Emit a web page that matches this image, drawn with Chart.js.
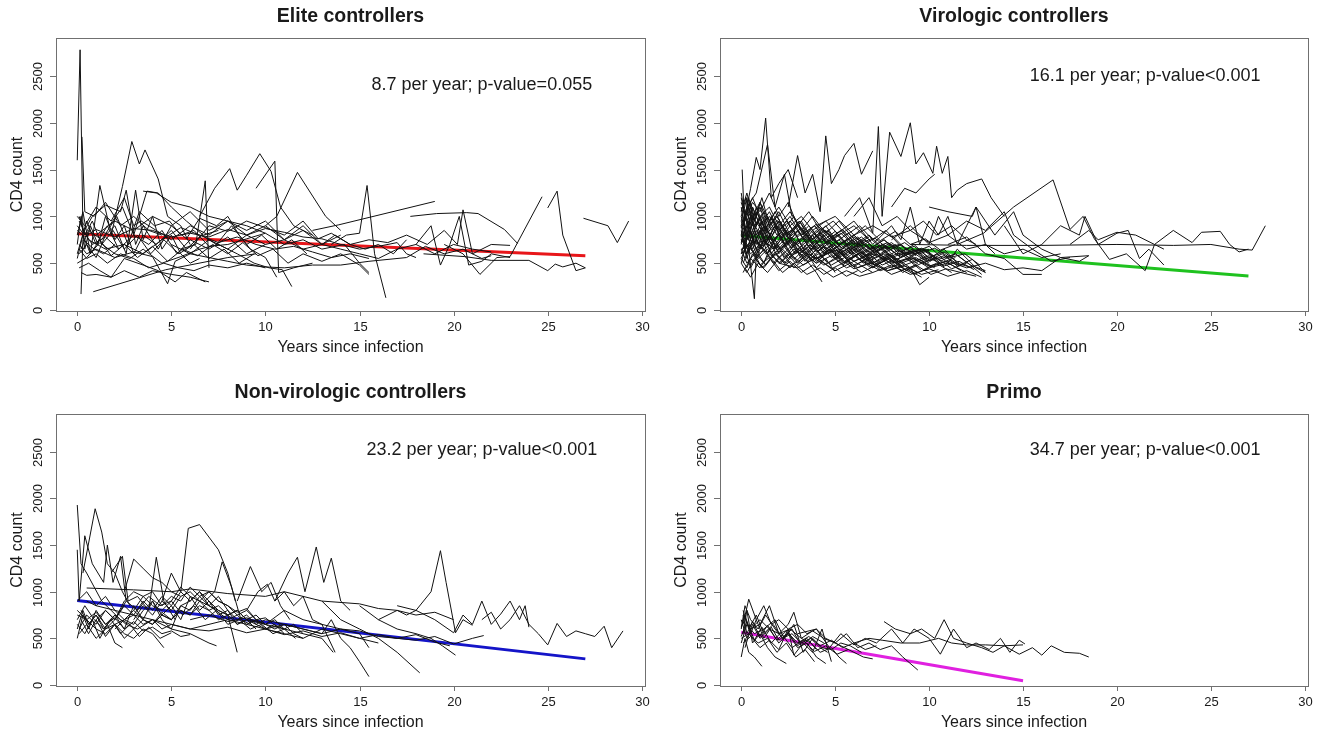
<!DOCTYPE html>
<html>
<head>
<meta charset="utf-8">
<title>CD4 count since infection</title>
<script src="https://cdn.jsdelivr.net/npm/chart.js@4.4.1/dist/chart.umd.min.js"></script>
<style>
  body { margin: 0; background: #fff; }
  #wrap { position: relative; width: 1320px; height: 736px; overflow: hidden; }
  canvas { position: absolute; }
</style>
</head>
<body>
<div id="wrap">
  <canvas id="c1" width="660" height="368" style="left:0;top:0"></canvas>
  <canvas id="c2" width="660" height="368" style="left:660px;top:0"></canvas>
  <canvas id="c3" width="660" height="368" style="left:0;top:368px"></canvas>
  <canvas id="c4" width="660" height="368" style="left:660px;top:368px"></canvas>
</div>
<script>
// Axis ticks
const xTicks = [0, 5, 10, 15, 20, 25, 30];
const yTicks = [0, 500, 1000, 1500, 2000, 2500];

// Panel texts
const titles = ["Elite controllers", "Virologic controllers", "Non-virologic controllers", "Primo"];
const notes = [
    "8.7 per year; p-value=0.055",
    "16.1 per year; p-value<0.001",
    "23.2 per year; p-value<0.001",
    "34.7 per year; p-value<0.001"
];
const noteX = 21.5;
const noteY = [2400, 2500, 2520, 2520];

// Fitted slopes: [year, CD4] at start and end
const eliteTrend = [[0, 815], [27, 580]];
const viroTrend = [[0, 795], [27, 362]];
const nonViroTrend = [[0, 905], [27, 280]];
const primoTrend = [[0, 565], [15, 45]];
const trendColors = ["#e8161a", "#1fc21f", "#1414c8", "#e020e0"];

// Individual trajectories, each a list of [year, CD4]
const eliteLines = [
    [[0,1600],[0.15,2780],[0.3,850],[0.8,700],[1.5,780],[2.2,650]],
    [[0.25,1850],[0.4,1050],[0.9,1000],[1.5,1150],[2.3,900],[3,1000],[3.8,850],[4.5,800]],
    [[0.2,170],[0.3,750],[0.9,650],[1.4,600],[2,700]],
    [[0.85,195],[4.7,430],[8,560],[9.5,600]],
    [[1.8,800],[2.4,1320],[2.9,1800],[3.3,1560],[3.6,1710],[4.3,1400],[4.8,1000],[5.5,900],[6,700]],
    [[6.5,1000],[7.3,1300],[8.1,1510],[8.5,1280],[9,1440],[9.7,1670],[10.3,1480],[10.8,1100],[11.5,900],[12.5,800]],
    [[9.5,1300],[10.5,1590],[10.7,400],[11.5,450],[12.5,500]],
    [[10,900],[10.6,1000],[11.7,1470],[13.2,1000],[14,850]],
    [[13.5,700],[14.3,800],[15,820],[15.4,1330],[15.8,600],[16.4,130]],
    [[5.5,650],[6.3,700],[6.8,1380],[7,450]],
    [[12.5,850],[13.9,910],[19,1160]],
    [[17.7,1000],[19.1,1030],[20.7,1040],[21.3,1030],[22.7,860],[23.4,710]],
    [[19.5,700],[20.5,600],[21.4,380],[22.3,560],[23,570],[24.7,1210]],
    [[25,1090],[25.5,1270],[25.8,800],[26.5,420],[27,450]],
    [[26.9,980],[28.2,900],[28.7,720],[29.3,950]],
    [[18.4,600],[20.6,570],[22,530],[24,530],[25,420],[25.4,490],[25.8,460],[26.5,500],[27,450]],
    [[0,600],[0.5,950],[1,700],[1.6,900],[2.2,650],[3,800],[3.8,700],[4.5,850],[5.3,600],[6,750],[7,650],[8,780],[9,600],[10,700]],
    [[0,800],[0.3,1050],[0.7,600],[1.2,1330],[1.7,900],[2.4,1100],[3,800],[3.7,1270],[4.3,1250],[5,1100],[5.8,950],[6.7,800],[7.5,850]],
    [[0.1,450],[0.6,500],[1.2,420],[1.8,350],[2.5,550],[3.5,480],[4.3,420],[5.2,300],[5.8,400],[6.8,300]],
    [[0.1,700],[0.5,600],[1,650],[2,560],[3,620],[4,570],[4.8,280],[5.2,520],[6,600],[7,560],[8,520],[9,480],[10,460],[11,450],[12.5,480],[14,480],[15.5,520],[17.5,560],[18.5,680],[19.5,600],[20.5,650],[21.5,550],[22,580]],
    [[0,1000],[0.4,900],[1,1100],[1.8,950],[2.5,1200],[3,900],[3.4,950],[4.2,850],[5,750],[6,900],[7,800],[8,950],[9,850],[10,950],[11,750],[12,900],[13,700],[13.7,800],[14.5,700],[15.3,650],[16,700],[16.8,600],[17.5,750]],
    [[0.2,650],[0.6,850],[1.3,750],[2.1,1000],[2.7,700],[3.3,1050],[4.1,900],[4.9,950],[5.5,800],[6.2,850],[7,680],[8,700],[9,760],[10,820],[11,700],[12,750],[13,650],[14.2,700],[15,500],[15.5,400]],
    [[0,500],[0.5,560],[1.2,720],[2,600],[2.8,550],[3.5,650],[4.5,500],[5.5,570],[6.5,650],[7.5,700],[8.5,600],[9.4,500],[10.2,450],[10.9,430],[11.4,250]],
    [[0,850],[0.4,780],[1,860],[2,780],[3,870],[4,850],[5,780],[6,820],[7,780],[8,860],[9,800],[10,870],[11,830],[12,780],[13,760],[14,700],[15,650],[16,680],[17,720],[17.5,600],[18,560]],
    [[0,900],[0.3,820],[0.8,1000],[1.5,1120],[2.3,1050],[2.6,1280],[3.1,700],[3.5,900],[4.3,650],[5,900],[5.8,760],[6.5,980],[7.4,900],[8,1000],[8.6,800],[9.2,650],[10,560],[10.6,350]],
    [[0.1,600],[0.5,700],[1,560],[1.5,800],[2,900],[2.6,600],[3.1,1280],[3.5,750],[4,1000],[4.5,650],[5,800],[5.5,600],[6,500],[6.5,550]],
    [[6,650],[7,900],[8,840],[9,950],[10,880],[11,800],[12,950],[12.8,760],[13.5,820],[14.5,700],[15.5,750],[16.5,720],[17.5,800],[18.6,700],[19.5,850],[20.2,700],[20.5,1070],[21,600],[22,700],[23,690]],
    [[0.1,950],[0.6,750],[1.5,650],[2.5,700],[3.5,600],[4.5,750],[5.5,880],[6.5,800],[7.5,720],[8.5,780],[9.5,700],[10.5,650],[11.5,680],[12.5,620],[13.5,560],[14.5,600],[15.5,550]],
    [[3.5,1270],[4.2,1250],[5,1150],[6,1100],[7,1000],[8,950],[9,900],[10,820]],
    [[0.2,400],[0.5,370],[1,380],[1.8,350],[2.5,420],[3.3,350],[4,420],[5,380],[6,350],[7,300]],
    [[18,700],[18.8,900],[19.3,480],[19.8,700],[20.3,1000],[20.8,480],[21.5,520],[22,600],[23,560]],
    [[0,700],[0.2,1000],[0.4,650],[0.7,900],[1.1,700],[1.5,1000],[2,750],[2.5,900],[3,600],[3.5,800],[4.2,700],[5,850],[5.8,650],[6.6,800],[7.4,700],[8.2,900],[9,700],[9.8,800],[10.6,650],[11.4,750],[12.2,600]],
    [[0,550],[0.3,800],[0.7,600],[1.2,750],[1.8,580],[2.5,700],[3.2,560],[4,680],[4.8,520],[5.6,650],[6.4,580],[7.2,700],[8,600],[8.8,720],[9.6,580],[10.4,650],[11.2,500],[12,600],[13,520],[14,600],[15,480],[15.5,380]],
    [[0.1,1000],[0.4,800],[0.8,950],[1.3,700],[1.9,850],[2.5,650],[3.2,800],[3.9,600],[4.6,750],[5.4,600],[6.2,700],[7,550],[7.8,650],[8.6,500],[9.4,600]],
    [[0.1,650],[0.5,550],[1,600],[1.6,500],[2.3,600],[3,550],[3.8,450],[4.6,500],[5.4,450],[6.2,420],[7,480],[8,450],[9,500],[10,450]],
    [[1,800],[2,950],[3,850],[4,1000],[5,900],[6,1050],[7,850],[8,950],[9,800],[10,900],[11,750],[12,850],[13,700],[14,800]],
    [[5,700],[6,600],[7,750],[8,650],[9,800],[10,700],[11,750],[12,650],[13,700],[14,650],[15,600],[16,550],[17,650],[18,700],[19,600],[20,700],[21,650],[22,620]]
];

const viroLines = [
    [[0.1,900],[0.5,1300],[0.8,1630],[1,1500],[1.3,2050],[1.6,1200],[2,1350],[2.5,1500],[3,1200]],
    [[0.3,1100],[0.8,1250],[1.4,1770],[1.8,1100],[2.3,1450],[2.7,1000]],
    [[2.5,1100],[3,1650],[3.4,1250],[3.8,1450],[4.2,1050],[4.5,1860],[4.8,1350],[5.2,1500],[5.5,1650],[6,1780],[6.4,1450],[7,1700]],
    [[5.5,1000],[6.3,1200],[7,820],[7.3,1960],[7.5,1000],[7.9,1900],[8.5,1640],[9,2000],[9.3,1560],[9.7,1680],[10.2,1460],[10.4,1750],[10.7,1460],[11,1640],[11.2,1200],[11.5,1280],[12,1350],[12.8,1400],[13.3,1200],[14,1000]],
    [[8,1100],[8.7,1300],[9.3,1250],[10,1400],[10.3,1450]],
    [[11.5,700],[12.9,820],[14.5,1100],[16.6,1390],[17.5,860],[18.2,1000],[18.8,760],[19.6,540],[20.5,600],[21.5,420],[22,700],[22.5,650]],
    [[9,700],[12,690],[16,690],[20,700],[23,690],[25,700],[26.5,650],[27.2,640],[27.9,900]],
    [[17.5,700],[18.5,850],[19,750],[20,830],[21,800],[22,700],[23,850],[24,720],[24.5,830],[25.5,840],[26,700],[26.5,620],[27,650]],
    [[14,900],[15,600],[16,700],[17,900],[18,800],[18.3,1000],[19,700],[20,820],[20.6,850],[21.2,550],[21.7,650],[22.5,480]],
    [[10,1100],[11,1050],[12.3,1000],[12.5,1100],[13.5,800],[14.5,1050],[15,800],[16,650],[17,560],[18.5,580]],
    [[11,700],[12,780],[13,600],[14,550],[15,380],[16,380]],
    [[8,800],[9,600],[10,680],[11,500],[11.5,650],[12.5,450],[13,400]],
    [[0,700],[0.3,950],[0.6,800],[1,1000],[1.4,750],[1.8,900],[2.3,700],[2.8,850],[3.3,650],[3.8,800],[4.4,600],[5,700],[5.6,550],[6.2,650],[7,500],[7.8,600],[8.5,480]],
    [[0,1200],[0.2,1000],[0.5,1150],[0.8,900],[1.2,1050],[1.6,850],[2,950],[2.5,800],[3,900],[3.5,750],[4,850],[4.6,700],[5.2,800],[5.8,650],[6.5,700]],
    [[0.1,500],[0.4,650],[0.7,120],[0.8,600],[1.2,500],[1.6,700],[2,550],[2.5,650],[3,500],[3.5,600],[4,450],[4.5,550],[5,400]],
    [[0,800],[0.3,600],[0.6,850],[1,650],[1.5,800],[2,600],[2.6,750],[3.2,550],[3.8,700],[4.5,600],[5.3,650],[6,520],[6.8,600],[7.5,480],[8.3,550],[9,450],[9.5,270],[10,350]],
    [[0.05,1500],[0.2,800],[0.5,1000],[0.9,700],[1.3,900],[1.8,700],[2.4,850],[3,650],[3.6,750],[4.2,600],[4.9,700],[5.6,580],[6.3,680],[7,560]],
    [[0,650],[0.4,700],[0.8,550],[1.2,650],[1.7,500],[2.2,600],[2.8,450],[3.4,550],[4,400],[4.3,300]],
    [[0,900],[0.3,1100],[0.7,950],[1.1,1200],[1.5,900],[2,1050],[2.6,800],[3.2,950],[3.8,750],[4.5,900],[5.2,700],[6,800],[6.8,650],[7.6,750],[8.4,600],[9.2,700],[10,550],[10.8,650],[11.5,500],[12.3,450]],
    [[0.1,600],[0.5,750],[1,600],[1.5,700],[2,800],[2.5,650],[3,750],[3.5,600],[4.2,700],[5,550],[5.8,650],[6.5,500],[7.2,600],[8,450],[8.8,550],[9.6,420],[10.4,500],[11.2,400]],
    [[0,1000],[0.3,800],[0.6,1100],[1,900],[1.5,1000],[2,850],[2.6,950],[3.2,800],[3.9,900],[4.6,750],[5.3,850],[6,700],[6.8,800],[7.6,650],[8.4,700],[9.2,600],[10,650]],
    [[0.2,450],[0.5,350],[0.9,500],[1.4,400],[2,550],[2.6,450],[3.3,600],[4,500],[4.7,650],[5.4,500],[6.2,600],[7,450],[7.8,550],[8.6,400],[9.4,500]],
    [[0,750],[0.4,850],[0.9,700],[1.4,800],[2,650],[2.7,750],[3.4,600],[4.1,700],[4.8,560],[5.6,650],[6.4,520],[7.3,600],[8.2,500],[9.1,560],[10,450],[11,500],[12,400]],
    [[0,1050],[0.3,1250],[0.6,1000],[1,1150],[1.5,950],[2,1100],[2.6,900],[3.2,1000],[3.8,850],[4.5,950],[5.2,800],[6,900],[6.8,750]],
    [[0.1,800],[0.4,650],[0.8,750],[1.3,600],[1.9,700],[2.5,550],[3.2,650],[4,500],[4.8,580],[5.6,450],[6.5,520],[7.4,420],[8.3,480],[9.2,380],[10,450]],
    [[0,550],[0.3,700],[0.7,600],[1.2,750],[1.7,650],[2.3,800],[3,700],[3.7,850],[4.4,700],[5.1,800],[5.8,650],[6.6,750],[7.4,600],[8.2,700],[9,580],[9.8,650],[10.6,520],[11.4,600],[12.2,480],[12.8,380]],
    [[0,900],[0.2,700],[0.5,850],[0.8,650],[1.2,800],[1.6,600],[2.1,750],[2.7,580],[3.3,700],[4,550],[4.7,650],[5.5,500],[6.3,600],[7.1,480],[8,560],[8.8,420],[9.6,500]],
    [[0.1,1100],[0.4,900],[0.8,1050],[1.3,850],[1.9,1000],[2.5,800],[3.1,950],[3.8,750],[4.5,850],[5.2,700],[6,800],[6.8,650],[7.6,750],[8.4,620],[9.2,680],[10,560],[10.8,620],[11.6,500]],
    [[0,650],[0.3,500],[0.7,600],[1.1,450],[1.6,550],[2.2,400],[2.8,500],[3.5,380],[4.2,450],[4.9,350],[5.6,420],[6.3,360],[7,400]],
    [[0.2,850],[0.6,1000],[1.1,850],[1.7,950],[2.3,800],[3,900],[3.7,750],[4.4,850],[5.2,700],[6,780],[6.9,650],[7.8,720],[8.7,600],[9.6,660],[10.5,540],[11.4,600],[12.2,480],[13,420]],
    [[0,750],[0.5,600],[1,700],[1.6,550],[2.2,650],[2.9,500],[3.6,600],[4.4,480],[5.2,560],[6,440],[6.9,500],[7.8,420],[8.7,470],[9.6,380],[10.5,430]],
    [[0,950],[0.3,1200],[0.6,900],[1,1100],[1.4,850],[1.9,1000],[2.5,800],[3.1,950],[3.8,700],[4.6,850],[5.4,650],[6.2,780],[7.1,620],[8,700],[8.9,560],[9.8,640],[10.6,500],[11.4,560]],
    [[0.1,400],[0.5,550],[1,450],[1.5,600],[2.1,500],[2.8,650],[3.5,550],[4.3,700],[5.1,580],[5.9,680],[6.7,560],[7.5,650],[8.3,540],[9.1,620],[10,500]],
    [[0,800],[0.2,1000],[0.5,750],[0.9,950],[1.3,700],[1.8,900],[2.4,680],[3,850],[3.7,640],[4.4,800],[5.1,600],[5.9,750],[6.7,580],[7.5,700],[8.3,540],[9.1,650],[9.9,520],[10.7,600],[11.5,470],[12.3,540],[13,400]],
    [[0.1,700],[0.4,850],[0.8,700],[1.2,900],[1.7,750],[2.2,850],[2.8,700],[3.4,800],[4,650],[4.7,750],[5.4,620],[6.1,720],[6.9,600],[7.7,680],[8.5,560],[9.3,640],[10.1,520]],
    [[0,1150],[0.3,950],[0.6,1100],[1,900],[1.5,1050],[2,850],[2.6,1000],[3.2,800],[3.9,900],[4.6,720],[5.3,820],[6.1,680],[6.9,760],[7.7,620],[8.5,700],[9.3,580]],
    [[0,600],[0.4,700],[0.9,550],[1.4,650],[2,500],[2.6,600],[3.3,480],[4,560],[4.8,440],[5.6,520],[6.4,400],[7.2,480],[8,380],[8.8,440],[9.6,350]],
    [[6,1000],[6.8,1200],[7.5,900],[8.3,1000],[9,850],[9.7,950],[10.4,800],[11.2,900],[12,750],[12.5,700]],
    [[4,900],[5,1000],[6,800],[7,900],[8,780],[9,850],[10,720],[11,800],[12,650],[13,700],[14,600],[15,650],[16,560],[17,600]],
    [[3,650],[4,550],[5,640],[6,520],[7,600],[8,500],[9,560],[10,470],[11,520],[12,450],[13,500],[14,430],[15,450],[16,420],[17,560],[18,520],[18.5,580]],
    [[0.2,950],[0.6,1150],[1,1050],[1.5,1250],[2,1000],[2.5,1150],[3,900],[3.6,1050],[4.2,850],[4.9,950],[5.6,800],[6.3,900],[7,750],[7.7,850],[8.4,700]],
    [[0,500],[0.3,400],[0.7,550],[1.2,450],[1.8,600],[2.4,500],[3,650],[3.7,550],[4.4,680],[5.2,560],[6,650],[6.8,520],[7.6,600],[8.4,480]],
    [[8,750],[9,900],[10,700],[10.5,1000],[11,800],[12,950],[13,850],[14,1050],[14.5,800],[15.5,650],[16.5,520],[17.5,560]],
    [[0,850],[0.2,650],[0.4,900],[0.7,700],[1,850],[1.4,600],[1.8,750],[2.3,550],[2.8,700],[3.4,520],[4,650],[4.6,500],[5.3,600],[6,460],[6.7,560],[7.4,430]],
    [[0,1000],[0.25,1200],[0.5,850],[0.8,1100],[1.2,800],[1.6,1000],[2.1,750],[2.6,900],[3.2,700],[3.8,850],[4.5,650],[5.2,750],[6,600],[6.8,700],[7.6,560],[8.4,640],[9.2,520],[10,580],[10.8,460]],
    [[0.1,700],[0.3,550],[0.6,750],[0.9,600],[1.3,800],[1.8,650],[2.3,750],[2.9,600],[3.5,700],[4.1,550],[4.8,650],[5.5,520],[6.2,600],[7,480],[7.8,560],[8.6,450]],
    [[0,600],[0.3,800],[0.6,650],[1,850],[1.4,700],[1.9,900],[2.4,750],[3,850],[3.6,680],[4.2,800],[4.9,650],[5.6,740],[6.4,600],[7.2,680],[8,560],[8.8,620],[9.6,500],[10.4,560],[11.2,440],[12,500]],
    [[0,1100],[0.2,850],[0.5,1000],[0.8,800],[1.1,950],[1.5,750],[2,900],[2.5,700],[3.1,820],[3.7,650],[4.3,760],[5,600],[5.7,700],[6.4,560],[7.1,640],[7.8,520]],
    [[0.1,900],[0.4,1100],[0.7,900],[1.1,1000],[1.5,800],[2,950],[2.6,750],[3.2,880],[3.9,700],[4.6,820],[5.3,660],[6,760],[6.8,620],[7.6,700],[8.4,580],[9.2,640],[10,520],[10.8,580],[11.6,480]],
    [[0,500],[0.2,650],[0.5,450],[0.9,600],[1.3,480],[1.8,620],[2.3,500],[2.9,640],[3.5,520],[4.1,600],[4.8,480],[5.5,560],[6.2,450],[7,520],[7.8,420],[8.6,480],[9.4,400]],
    [[0,780],[0.3,900],[0.7,720],[1.1,880],[1.6,700],[2.1,820],[2.7,660],[3.3,780],[4,620],[4.7,720],[5.4,580],[6.1,680],[6.9,540],[7.7,620],[8.5,500],[9.3,560],[10.1,460],[10.9,520],[11.7,420]],
    [[0,1250],[0.2,1000],[0.4,1200],[0.7,950],[1,1150],[1.4,900],[1.8,1050],[2.3,850],[2.8,1000],[3.4,800],[4,920],[4.7,760],[5.4,860],[6.1,700],[6.8,780]],
    [[0.1,650],[0.4,800],[0.8,600],[1.2,750],[1.7,580],[2.2,700],[2.8,540],[3.4,660],[4,520],[4.7,620],[5.4,480],[6.1,580],[6.9,450],[7.7,530],[8.5,420],[9.3,480],[10.1,380],[10.9,440],[11.7,400],[12.5,360]],
    [[0,950],[0.3,750],[0.6,950],[1,800],[1.4,1000],[1.9,800],[2.4,950],[3,780],[3.6,900],[4.3,730],[5,840],[5.7,690],[6.4,780],[7.2,640],[8,720],[8.8,590],[9.6,650],[10.4,540]],
    [[0,720],[0.2,880],[0.5,700],[0.8,850],[1.2,680],[1.6,820],[2.1,650],[2.7,780],[3.3,620],[3.9,740],[4.6,600],[5.3,700],[6,570],[6.8,660],[7.6,540],[8.4,610],[9.2,500],[10,560],[10.8,470],[11.6,520],[12.4,430]],
    [[0.2,1000],[0.6,1200],[1,1000],[1.5,1100],[2,900],[2.6,1050],[3.2,850],[3.8,1000],[4.5,820],[5.2,950],[5.9,780],[6.6,900],[7.4,740],[8.2,840],[9,700],[9.8,760],[10.6,640],[11.4,700]],
    [[0,550],[0.3,450],[0.6,600],[1,480],[1.5,560],[2,420],[2.6,520],[3.2,400],[3.8,480],[4.4,380],[5,450],[5.6,360],[6.2,420]],
    [[0,880],[0.3,1050],[0.6,850],[1,1000],[1.4,820],[1.9,960],[2.4,800],[3,920],[3.6,760],[4.3,880],[5,720],[5.7,820],[6.4,680],[7.1,770],[7.9,640],[8.7,720],[9.5,600],[10.3,660],[11.1,560],[11.9,600],[12.7,480]],
    [[0.1,760],[0.4,620],[0.7,800],[1.1,650],[1.5,780],[2,620],[2.5,740],[3.1,600],[3.7,700],[4.3,570],[5,660],[5.7,540],[6.4,620],[7.1,510],[7.9,580],[8.7,480],[9.5,540],[10.3,450]],
    [[5,800],[6,950],[7,700],[8,900],[8.5,750],[9,1100],[9.5,700],[10,950],[10.5,800],[11,1000],[11.5,700],[12,900],[12.5,1100],[13,700],[13.5,600]],
    [[2,500],[3,450],[4,560],[5,420],[6,520],[7,400],[8,480],[9,380],[10,440],[11,360],[12,420],[12.8,350]]
];

const nonViroLines = [
    [[0,1930],[0.2,1300],[0.5,1200],[0.9,1050],[1.3,900],[1.8,800],[2.3,700],[2.8,650]],
    [[0.3,1200],[0.95,1890],[1.3,1640],[1.6,1300],[2,1200],[2.4,1000],[2.8,850]],
    [[0,1450],[0.1,900],[0.4,1600],[0.8,1300],[1.4,1100],[1.6,1500],[1.9,1100],[2.3,1380],[2.6,900]],
    [[4.5,900],[5,1200],[5.5,1000],[5.9,1680],[6.5,1720],[7.5,1450],[8,1200],[8.4,900]],
    [[17,850],[18,800],[18.8,1000],[19.3,1440],[19.6,1100],[20.1,560],[20.5,700],[21,640]],
    [[10.5,900],[11.2,1200],[11.7,1370],[12.1,1000],[12.7,1480],[13.1,1100],[13.5,1360],[14,900],[14.5,800]],
    [[21.5,700],[22,780],[22.5,600],[23,700],[23.5,850],[24,650],[24.5,550],[25,430],[25.5,660],[26,520],[26.5,580],[27,550],[27.5,520],[28,630],[28.4,400],[29,580]],
    [[15,850],[16,700],[17,800],[17.5,750],[18,800],[19,700],[20,560],[20.5,750],[21,650],[21.5,900],[22,650],[22.5,760],[23,900],[23.5,700],[23.8,850],[24,620]],
    [[10,700],[11,650],[12,600],[13,550],[13.5,700],[14,500],[14.5,400],[15,250],[15.5,90]],
    [[13,900],[14,700],[15,600],[16,500],[17,350],[18.2,130]],
    [[16,700],[17,600],[18,550],[18.8,500],[19.4,420],[20.1,320]],
    [[0.5,1040],[3,1020],[5,1000],[6,1030],[8,980],[10,950],[11,1000],[13,900],[15,870],[16,820],[17,800],[18,750],[19,780],[20,700]],
    [[2.5,1000],[3,1350],[3.5,1250],[4,1150],[4.5,1100],[5,1000],[5.5,950]],
    [[1.8,1200],[2.4,1380],[2.7,900],[3.2,950],[3.8,800],[4.2,1370],[4.6,900],[5.2,700]],
    [[6.8,900],[7.3,1000],[7.7,1320],[8.2,1050],[8.7,700],[9.2,650]],
    [[8.5,900],[9.2,1270],[9.8,1000],[10.3,1100],[10.8,850],[11.3,700]],
    [[9,800],[9.6,1000],[10.1,1080],[10.5,900],[11,1000],[11.5,850],[12,950],[12.5,700],[13,650],[13.7,350]],
    [[0,500],[0.3,750],[0.6,600],[1,800],[1.5,650],[2,750],[2.5,600],[3,850],[3.5,700],[4,900],[4.5,750],[5,850],[5.5,700],[6,950],[6.5,800],[7,900],[7.5,750],[8,800],[8.5,650],[9,700],[9.5,600]],
    [[0,650],[0.4,550],[0.8,700],[1.2,500],[1.6,650],[2,450],[2.4,400]],
    [[0.1,600],[0.5,750],[1,650],[1.5,800],[2,700],[2.5,850],[3,750],[3.5,900],[4,800],[4.5,950],[5,850],[5.5,1000],[6,900],[6.5,1000],[7,850],[7.5,950],[8,800],[8.5,700],[9,750],[9.5,650],[10,700]],
    [[0,750],[0.5,700],[1,600],[1.5,550],[2,650],[2.5,550],[3,500],[3.5,600],[4,550],[4.6,400]],
    [[0.2,800],[0.6,650],[1,750],[1.5,600],[2,700],[2.6,900],[3.2,800],[3.8,950],[4.4,850],[5,900],[5.6,750],[6.2,850],[6.8,700],[7.4,800],[8,650],[8.6,700],[9.2,600],[9.8,650],[10.4,550],[11,600],[11.6,500]],
    [[0,700],[0.4,850],[0.9,700],[1.4,600],[2,750],[2.6,650],[3.2,600],[4,700],[5,600],[6,550],[7,450],[7.4,420]],
    [[1,700],[1.5,800],[2,700],[2.5,900],[3,1000],[3.5,950],[4,850],[4.5,800],[5,900],[5.5,1050],[6,950],[6.5,900],[7,1000],[7.5,900],[8,850],[8.5,750],[9,800],[9.5,700],[10,650],[10.5,700],[11,600],[11.5,650],[12,550]],
    [[0.1,550],[0.5,650],[1,500],[1.5,600],[2,650],[2.5,700],[3,800],[3.5,700],[4,650],[4.5,750],[5,700],[5.5,800],[6,750],[6.5,850],[7,800],[7.5,700],[8,750],[8.5,650],[9,700],[10,600],[11,650],[12,600],[13,550],[14,600],[15,550],[15.5,400]],
    [[3,700],[3.5,850],[4,750],[4.5,900],[5,800],[5.5,950],[6,1000],[6.5,900],[7,850],[7.5,800],[8,750],[8.5,800],[9,700],[10,650],[11,600],[12,550],[13,500],[13.6,350]],
    [[0,900],[0.5,1000],[1,850],[1.5,950],[2,800],[2.5,700],[3,750],[3.5,650],[4,700],[4.5,600],[5,650],[6,600],[7,580],[8,620],[9,560],[10,600],[11,540],[12,580],[13,520],[14,560],[15,500],[16,540],[17,500],[18,480],[19,520],[20,440],[21,500],[21.6,530]],
    [[0.5,900],[1,850],[2,800],[3,750],[4,700],[5,650],[6,600],[7,650],[8,700],[9,650],[10,600],[11,550],[12,500],[13,600],[14,550],[15,500],[16,450]],
    [[2,600],[2.5,700],[3,650],[3.5,800],[4,900],[4.5,700],[5,600],[5.5,850],[6,900],[6.5,1000],[7,900],[7.5,800],[8,750],[8.5,350]],
    [[6,700],[7,750],[8,680],[9,720],[10,650],[11,800],[12,700],[13,650],[14,600],[15,580],[16,520],[17,500],[18,540],[19,460],[19.8,420]],
    [[0,600],[0.3,800],[0.6,650],[1,750],[1.4,600],[1.8,700],[2.3,550],[2.8,650],[3.3,520],[3.8,620],[4.4,500],[5,560]],
    [[0.2,700],[0.6,550],[1,700],[1.5,520],[2,650],[2.5,500],[3,600],[3.5,700],[4,650],[4.5,780],[5,700],[5.5,850],[6,800],[6.5,950],[7,850],[7.5,780],[8,700],[8.5,750],[9,650],[9.5,700],[10,600],[10.5,650],[11,550]],
    [[3,800],[3.5,950],[4,1000],[4.5,850],[5,950],[5.5,900],[6,1050],[6.5,950],[7,1000],[7.5,900],[8,850],[8.5,780],[9,820],[9.5,700],[10,720],[10.5,640],[11,600]],
    [[4,650],[4.5,750],[5,700],[5.5,800],[6,750],[6.5,900],[7,800],[7.5,850],[8,750],[8.5,800],[9,700],[9.5,750],[10,650],[10.5,600],[11,650],[11.5,550],[12,500]],
    [[0,800],[0.5,700],[1,780],[1.5,650],[2,720],[2.5,600],[3,680],[3.5,580],[4,620],[4.5,550],[5,580],[5.5,520],[6,540]]
];

const primoLines = [
    [[0,600],[0.2,850],[0.5,700],[0.9,600],[1.3,750],[1.8,600],[2.2,500],[2.7,550],[3.2,450],[3.7,500],[4.2,400],[4.6,350]],
    [[0.1,650],[0.4,920],[0.8,700],[1.2,850],[1.6,650],[2,700],[2.5,600],[3,650],[3.5,550],[4,600],[4.5,500],[5,450],[5.5,400],[6,350],[6.5,300],[7,280]],
    [[0,300],[0.2,500],[0.4,350],[0.7,300],[1.1,200]],
    [[0.1,550],[0.3,800],[0.6,450],[1,550],[1.4,400],[1.8,300],[2.4,230]],
    [[0,700],[0.3,500],[0.6,650],[1,500],[1.5,600],[2,450],[2.5,550],[3,400],[3.5,450],[4,300],[4.5,230]],
    [[0.2,400],[0.5,600],[1,650],[1.5,850],[2,550],[2.5,650],[2.8,780],[3.2,500],[3.7,450],[4.2,350],[4.8,400],[5.2,300],[5.6,230]],
    [[0,500],[0.4,550],[0.9,450],[1.4,500],[1.9,350],[2.4,450],[2.9,300],[3.4,380],[3.9,250]],
    [[0.5,600],[1,700],[1.5,600],[2,550],[2.6,600],[3.2,500],[3.8,580],[4.4,500],[5,450],[5.6,550],[6.2,400],[6.8,450],[7.4,380],[8,420],[8.6,300],[9.4,160]],
    [[0.1,450],[0.5,520],[1,400],[1.5,480],[2,380],[2.5,600],[2.8,320],[3.3,450],[3.8,350],[4.3,600],[4.8,250]],
    [[7.6,680],[8.2,600],[9,550],[9.6,600],[10.3,500],[10.8,700],[11.3,500],[12,450],[12.8,400],[13.4,350],[14,420],[14.8,330],[15.5,400],[16,320],[16.5,420],[17.2,350],[18,340],[18.5,300]],
    [[6,450],[6.8,500],[7.5,480],[8.5,450],[9.5,450],[10.5,500],[11.2,450],[12,430],[13,430],[14,420],[15,430]],
    [[3,550],[4,600],[4.7,400],[5.3,550],[6,430],[6.6,500],[7.2,450],[8,600],[8.6,450],[9.2,600],[10,500],[10.6,330],[11.3,600],[12,400],[12.5,450],[13.2,380],[13.8,500],[14.3,350],[14.8,480],[15.1,440]],
    [[0,450],[0.3,650],[0.7,550],[1.2,600],[1.8,700],[2.3,500],[2.8,650],[3.3,350],[3.8,500],[4.3,400],[4.8,380],[5.3,450],[5.8,420],[6.4,350]],
    [[0.1,800],[0.4,600],[0.8,750],[1.2,550],[1.7,650],[2.2,500],[2.7,600],[3.2,420],[3.8,520],[4.4,450]],
    [[0,620],[0.2,750],[0.5,550],[0.8,700],[1.2,500],[1.6,620],[2,480],[2.5,560],[3,420],[3.5,500],[4,380]],
    [[0.1,750],[0.3,550],[0.6,680],[1,520],[1.4,640],[1.9,480],[2.4,580],[3,450],[3.6,520],[4.2,420],[4.8,480],[5.4,400],[6,450],[6.6,380],[7.2,420]],
    [[0,520],[0.3,680],[0.7,480],[1.1,620],[1.6,450],[2.1,560],[2.7,400],[3.3,480],[3.9,360],[4.5,420],[5.1,330],[5.7,380]]
];

// Plot box of each panel inside its 660x368 canvas: left, top, right, bottom
const boxes = [
    [56, 38, 645, 311],
    [60, 38, 648, 311],
    [56, 46, 645, 318],
    [60, 46, 648, 318]
];

const FONT = "'Liberation Sans', Arial, sans-serif";

// Draws box, ticks and texts like base R graphics
const rAxes = {
    id: "rAxes",
    afterDraw(chart, args, opts) {
        const ctx = chart.ctx;
        const a = chart.chartArea;
        const xs = chart.scales.x;
        const ys = chart.scales.y;

        ctx.save();
        ctx.strokeStyle = "#707070";
        ctx.lineWidth = 1;
        ctx.strokeRect(Math.round(a.left) + 0.5, Math.round(a.top) + 0.5,
            Math.round(a.right - a.left), Math.round(a.bottom - a.top));

        ctx.fillStyle = "#1a1a1a";
        ctx.font = "13px " + FONT;
        ctx.textAlign = "center";
        ctx.textBaseline = "middle";

        xTicks.forEach(v => {
            const px = Math.round(xs.getPixelForValue(v)) + 0.5;
            ctx.beginPath();
            ctx.moveTo(px, a.bottom);
            ctx.lineTo(px, a.bottom + 5);
            ctx.stroke();
            ctx.fillText(String(v), px, a.bottom + 16);
        });

        yTicks.forEach(v => {
            const py = Math.round(ys.getPixelForValue(v)) + 0.5;
            ctx.beginPath();
            ctx.moveTo(a.left - 6, py);
            ctx.lineTo(a.left, py);
            ctx.stroke();
            ctx.save();
            ctx.translate(a.left - 18, py);
            ctx.rotate(-Math.PI / 2);
            ctx.fillText(String(v), 0, 0);
            ctx.restore();
        });

        const cx = (a.left + a.right) / 2;
        const cy = (a.top + a.bottom) / 2;

        // axis titles
        ctx.font = "16px " + FONT;
        ctx.fillText("Years since infection", cx, a.bottom + 37);
        ctx.save();
        ctx.translate(a.left - 38, cy);
        ctx.rotate(-Math.PI / 2);
        ctx.fillText("CD4 count", 0, 0);
        ctx.restore();

        // panel title
        ctx.font = "bold 19.5px " + FONT;
        ctx.fillText(opts.title, cx, a.top - 21);

        // slope note
        ctx.font = "18px " + FONT;
        ctx.fillText(opts.note, xs.getPixelForValue(noteX), ys.getPixelForValue(opts.noteY));
        ctx.restore();
    }
};

function toPoints(line) {
    return line.map(p => ({ x: p[0], y: p[1] }));
}

function makePanel(id, i, lines, trend) {
    const b = boxes[i];
    const datasets = lines.map(l => ({
        data: toPoints(l),
        showLine: true,
        borderColor: "#111111",
        borderWidth: 1,
        borderJoinStyle: "round",
        pointRadius: 0
    }));
    datasets.push({
        data: toPoints(trend),
        showLine: true,
        borderColor: trendColors[i],
        borderWidth: 3,
        pointRadius: 0
    });

    new Chart(document.getElementById(id), {
        type: "scatter",
        data: { datasets: datasets },
        options: {
            responsive: false,
            animation: false,
            events: [],
            layout: {
                padding: { left: b[0], top: b[1], right: 660 - b[2], bottom: 368 - b[3] }
            },
            plugins: {
                legend: { display: false },
                tooltip: { enabled: false },
                rAxes: { title: titles[i], note: notes[i], noteY: noteY[i] }
            },
            scales: {
                x: { type: "linear", min: -1.13, max: 30.17, display: false },
                y: { type: "linear", min: -11, max: 2906, display: false }
            }
        },
        plugins: [rAxes]
    });
}

makePanel("c1", 0, eliteLines, eliteTrend);
makePanel("c2", 1, viroLines, viroTrend);
makePanel("c3", 2, nonViroLines, nonViroTrend);
makePanel("c4", 3, primoLines, primoTrend);
</script>
</body>
</html>
